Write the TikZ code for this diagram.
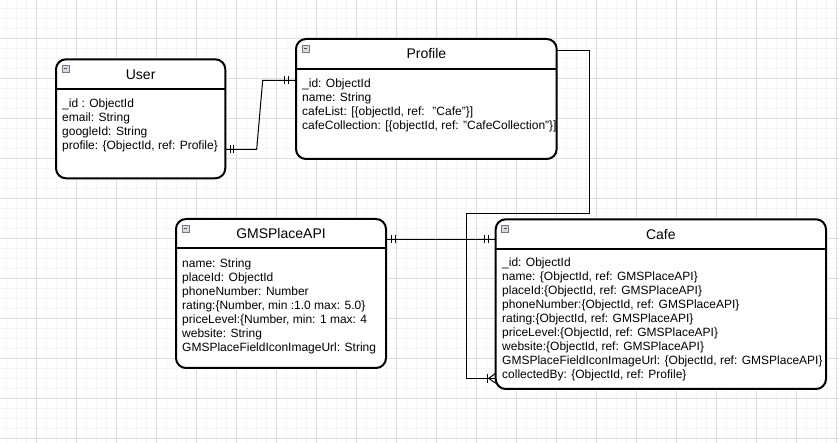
\documentclass[tikz,border=0pt]{standalone}
\usepackage{fontspec}
\setmainfont{Liberation Sans}
\usetikzlibrary{calc}
\definecolor{gridmajor}{RGB}{222,222,222}
\definecolor{gridminor}{RGB}{245,245,245}
\definecolor{iconfill}{RGB}{215,218,225}
\definecolor{iconline}{RGB}{120,120,130}
\begin{document}
\begin{tikzpicture}[x=1pt,y=-1pt,
  entity/.style={draw=black, line width=2pt, rounded corners=10pt, anchor=north west, inner sep=0pt, outer sep=0pt, fill=white},
  sep/.style={draw=black, line width=2pt},
  ttl/.style={font=\fontsize{14}{16}\selectfont, inner sep=0pt},
  body/.style={font=\fontsize{12}{14}\selectfont, align=left, anchor=north west, inner sep=0pt},
  conn/.style={draw=black, line width=1pt},
  mk/.style={draw=black, line width=1pt},
  icon/.style={draw=iconline, fill=iconfill, line width=0.7pt},
  iconbar/.style={draw=black!70, line width=0.9pt}
]
\useasboundingbox (0,0) rectangle (839,443);
\fill[white] (0,0) rectangle (839,443);
% grid
\foreach \x in {6,16,...,836} \draw[gridminor, line width=1pt] (\x,0) -- (\x,443);
\foreach \y in {9,19,...,439} \draw[gridminor, line width=1pt] (0,\y) -- (839,\y);
\foreach \x in {36,76,...,836} \draw[gridmajor, line width=1pt] (\x,0) -- (\x,443);
\foreach \y in {39,79,...,439} \draw[gridmajor, line width=1pt] (0,\y) -- (839,\y);

\coordinate (upA) at (256.7,149.3);
\coordinate (upB) at (262.7,80.3);

% ---------- entities ----------
% User
\node[entity, minimum width=169.3pt, minimum height=119pt] (user) at (56,59.3) {};
\draw[sep] (user.west |- 0,89.3) -- (user.east |- 0,89.3);
\node[ttl] (usert) at ([yshift=-15pt]user.north) {User};
\draw[icon] ($(user.north west)+(6,6)$) rectangle ++(7,7);
\draw[iconbar] ($(user.north west)+(7.8,9.5)$) -- ++(3.4,0);
\node[body] (userb) at (62,97.2) {\strut\_id : ObjectId\\email: String\\googleId: String\\profile: \{ObjectId, ref: Profile\}};

% Profile
\node[entity, minimum width=260.7pt, minimum height=120pt] (profile) at (296,39) {};
\draw[sep] (profile.west |- 0,69) -- (profile.east |- 0,69);
\node[ttl] (profilet) at ([yshift=-15pt]profile.north) {Profile};
\draw[icon] ($(profile.north west)+(6,6)$) rectangle ++(7,7);
\draw[iconbar] ($(profile.north west)+(7.8,9.5)$) -- ++(3.4,0);
\node[body] (profileb) at (302,77.2) {\strut\_id: ObjectId\\name: String\\cafeList: [\{objectId, ref: \ "Cafe"\}]\\cafeCollection: [\{objectId, ref: "CafeCollection"\}]};

% GMSPlaceAPI
\node[entity, minimum width=210pt, minimum height=149pt] (gms) at (176,219) {};
\draw[sep] (gms.west |- 0,248) -- (gms.east |- 0,248);
\node[ttl] (gmst) at ([yshift=-14.5pt]gms.north) {GMSPlaceAPI};
\draw[icon] ($(gms.north west)+(6,6)$) rectangle ++(7,7);
\draw[iconbar] ($(gms.north west)+(7.8,9.5)$) -- ++(3.4,0);
\node[body] (gmsb) at (182,257.2) {\strut name: String\\placeId: ObjectId\\phoneNumber: Number\\rating:\{Number, min :1.0 max: 5.0\}\\priceLevel:\{Number, min: 1 max: 4\\website: String\\GMSPlaceFieldIconImageUrl: String};

% Cafe
\node[entity, minimum width=330.3pt, minimum height=169.7pt] (cafe) at (495.7,219.3) {};
\draw[sep] (cafe.west |- 0,249) -- (cafe.east |- 0,249);
\node[ttl] (cafet) at ([yshift=-15pt]cafe.north) {Cafe};
\draw[icon] ($(cafe.north west)+(6,6)$) rectangle ++(7,7);
\draw[iconbar] ($(cafe.north west)+(7.8,9.5)$) -- ++(3.4,0);
\node[body] (cafeb) at (502,256.7) {\strut\_id: ObjectId\\name: \{ObjectId, ref: GMSPlaceAPI\}\\placeId:\{ObjectId, ref: GMSPlaceAPI\}\\phoneNumber:\{ObjectId, ref: GMSPlaceAPI\}\\rating:\{ObjectId, ref: GMSPlaceAPI\}\\priceLevel:\{ObjectId, ref: GMSPlaceAPI\}\\website:\{ObjectId, ref: GMSPlaceAPI\}\\GMSPlaceFieldIconImageUrl: \{ObjectId, ref: GMSPlaceAPI\}\\collectedBy: \{ObjectId, ref: Profile\}};

% ---------- connector lines ----------
% User -- Profile (one to one)
\draw[conn] (user.east |- 0,149.3) -- (upA) -- (upB) -- (profile.west |- 0,80.3);
\draw[mk] ($(user.east |- 0,149.3)+(5,-4)$) -- ++(0,8);
\draw[mk] ($(user.east |- 0,149.3)+(8.5,-4)$) -- ++(0,8);
\draw[mk] ($(profile.west |- 0,80.3)+(-11.5,-4)$) -- ++(0,8);
\draw[mk] ($(profile.west |- 0,80.3)+(-8,-4)$) -- ++(0,8);

% GMSPlaceAPI -- Cafe (one to one)
\draw[conn] (gms.east |- 0,239.3) -- (cafe.west |- 0,239.3);
\draw[mk] ($(gms.east |- 0,239.3)+(5,-4)$) -- ++(0,8);
\draw[mk] ($(gms.east |- 0,239.3)+(9,-4)$) -- ++(0,8);
\draw[mk] ($(cafe.west |- 0,239.3)+(-11.5,-4)$) -- ++(0,8);
\draw[mk] ($(cafe.west |- 0,239.3)+(-7.5,-4)$) -- ++(0,8);

% Profile -- Cafe (one to many)
\coordinate (pc1) at (589.3,51);
\coordinate (pc2) at (589.3,214);
\coordinate (pc3) at (466.7,214);
\coordinate (pc4) at (466.7,378.3);
\draw[conn] (profile.east |- 0,51) -- (pc1) -- (pc2) -- (pc3) -- (pc4) -- (cafe.west |- 0,378.3);
\draw[mk] ($(cafe.west |- 0,378.3)+(-8,-4.5)$) -- ++(0,9);
\draw[mk] ($(cafe.west |- 0,378.3)+(0,-5)$) -- ($(cafe.west |- 0,378.3)+(-7,0)$) -- ($(cafe.west |- 0,378.3)+(0,5)$);
\end{tikzpicture}
\end{document}
